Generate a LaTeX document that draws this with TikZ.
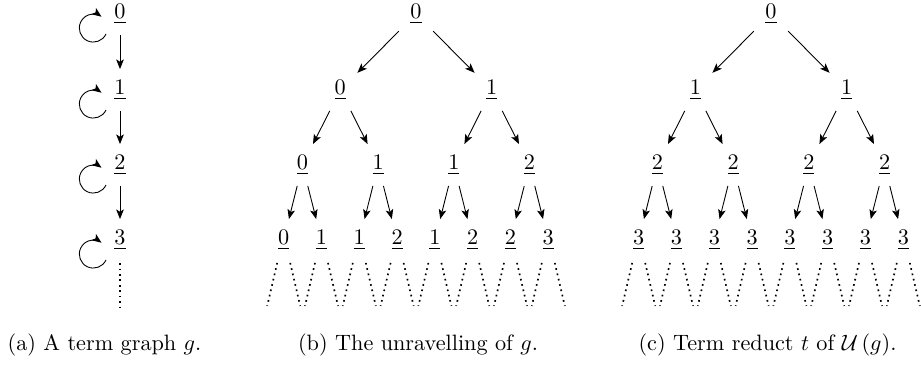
\documentclass[tikz,border=0pt]{standalone}
\usetikzlibrary{arrows.meta}
\begin{document}
\begin{tikzpicture}[x=0.45pt,y=0.45pt,
  nd/.style={inner sep=5pt},
  arr/.style={-{Stealth[length=4.3pt,width=3.4pt,inset=1pt]}},
  dots/.style={line width=0.75pt,dash pattern=on 0.75pt off 1.7pt},
  captext/.style={inner sep=0pt}]
\useasboundingbox (0,0) rectangle (921,-367);
% ---------- (a)
\node[nd] (a0) at (120,-14) {$\underline{0}$};
\node[nd] (a1) at (120,-90) {$\underline{1}$};
\node[nd] (a2) at (120,-165) {$\underline{2}$};
\node[nd] (a3) at (120,-240) {$\underline{3}$};
\foreach \p/\c in {a0/a1,a1/a2,a2/a3} \draw[arr] (\p) -- (\c);
\foreach \n in {a0,a1,a2,a3}
  \draw[arr] ([shift={(-14,-20)}]\n.center) arc[start angle=-25,end angle=-306,radius=14];
\coordinate (aend) at (120,-308);
\draw[dots] ([yshift=-1pt]a3.south) -- (aend);
% ---------- (b)
\node[nd] (b) at (416,-14) {$\underline{0}$};
\node[nd] (b0) at (340.3,-90) {$\underline{0}$};
\node[nd] (b1) at (491.7,-90) {$\underline{1}$};
\node[nd] (b00) at (302.45,-165) {$\underline{0}$};
\node[nd] (b01) at (378.15,-165) {$\underline{1}$};
\node[nd] (b10) at (453.85,-165) {$\underline{1}$};
\node[nd] (b11) at (529.55,-165) {$\underline{2}$};
\node[nd] (b000) at (283.7,-240) {$\underline{0}$};
\node[nd] (b001) at (321.5,-240) {$\underline{1}$};
\node[nd] (b010) at (359.3,-240) {$\underline{1}$};
\node[nd] (b011) at (397.1,-240) {$\underline{2}$};
\node[nd] (b100) at (434.9,-240) {$\underline{1}$};
\node[nd] (b101) at (472.7,-240) {$\underline{2}$};
\node[nd] (b110) at (510.5,-240) {$\underline{2}$};
\node[nd] (b111) at (548.3,-240) {$\underline{3}$};
% ---------- (c)
\node[nd] (c) at (771,-14) {$\underline{0}$};
\node[nd] (c0) at (695.3,-90) {$\underline{1}$};
\node[nd] (c1) at (846.7,-90) {$\underline{1}$};
\node[nd] (c00) at (657.45,-165) {$\underline{2}$};
\node[nd] (c01) at (733.15,-165) {$\underline{2}$};
\node[nd] (c10) at (808.85,-165) {$\underline{2}$};
\node[nd] (c11) at (884.55,-165) {$\underline{2}$};
\node[nd] (c000) at (638.7,-240) {$\underline{3}$};
\node[nd] (c001) at (676.5,-240) {$\underline{3}$};
\node[nd] (c010) at (714.3,-240) {$\underline{3}$};
\node[nd] (c011) at (752.1,-240) {$\underline{3}$};
\node[nd] (c100) at (789.9,-240) {$\underline{3}$};
\node[nd] (c101) at (827.7,-240) {$\underline{3}$};
\node[nd] (c110) at (865.5,-240) {$\underline{3}$};
\node[nd] (c111) at (903.3,-240) {$\underline{3}$};
\foreach \t in {b,c}{
  \foreach \p/\c in {/0,/1,0/00,0/01,1/10,1/11,00/000,00/001,01/010,01/011,10/100,10/101,11/110,11/111}
    \draw[arr] (\t\p) -- (\t\c);
  \foreach \l in {000,001,010,011,100,101,110,111}{
    \draw[dots] ([shift={(-6.5,-2)}]\t\l.south) -- ++(-10,-43);
    \draw[dots] ([shift={(6.5,-2)}]\t\l.south) -- ++(10,-43);
  }
}
% ---------- captions
\node[captext] (capa) at (104.5,-345) {(a) A term graph $g$.};
\node[captext] (capb) at (418,-345) {(b) The unravelling of $g$.};
\node[captext] (capc) at (767.5,-345) {(c) Term reduct $t$ of $\mathcal{U}\left(g\right)$.};
\end{tikzpicture}
\end{document}
